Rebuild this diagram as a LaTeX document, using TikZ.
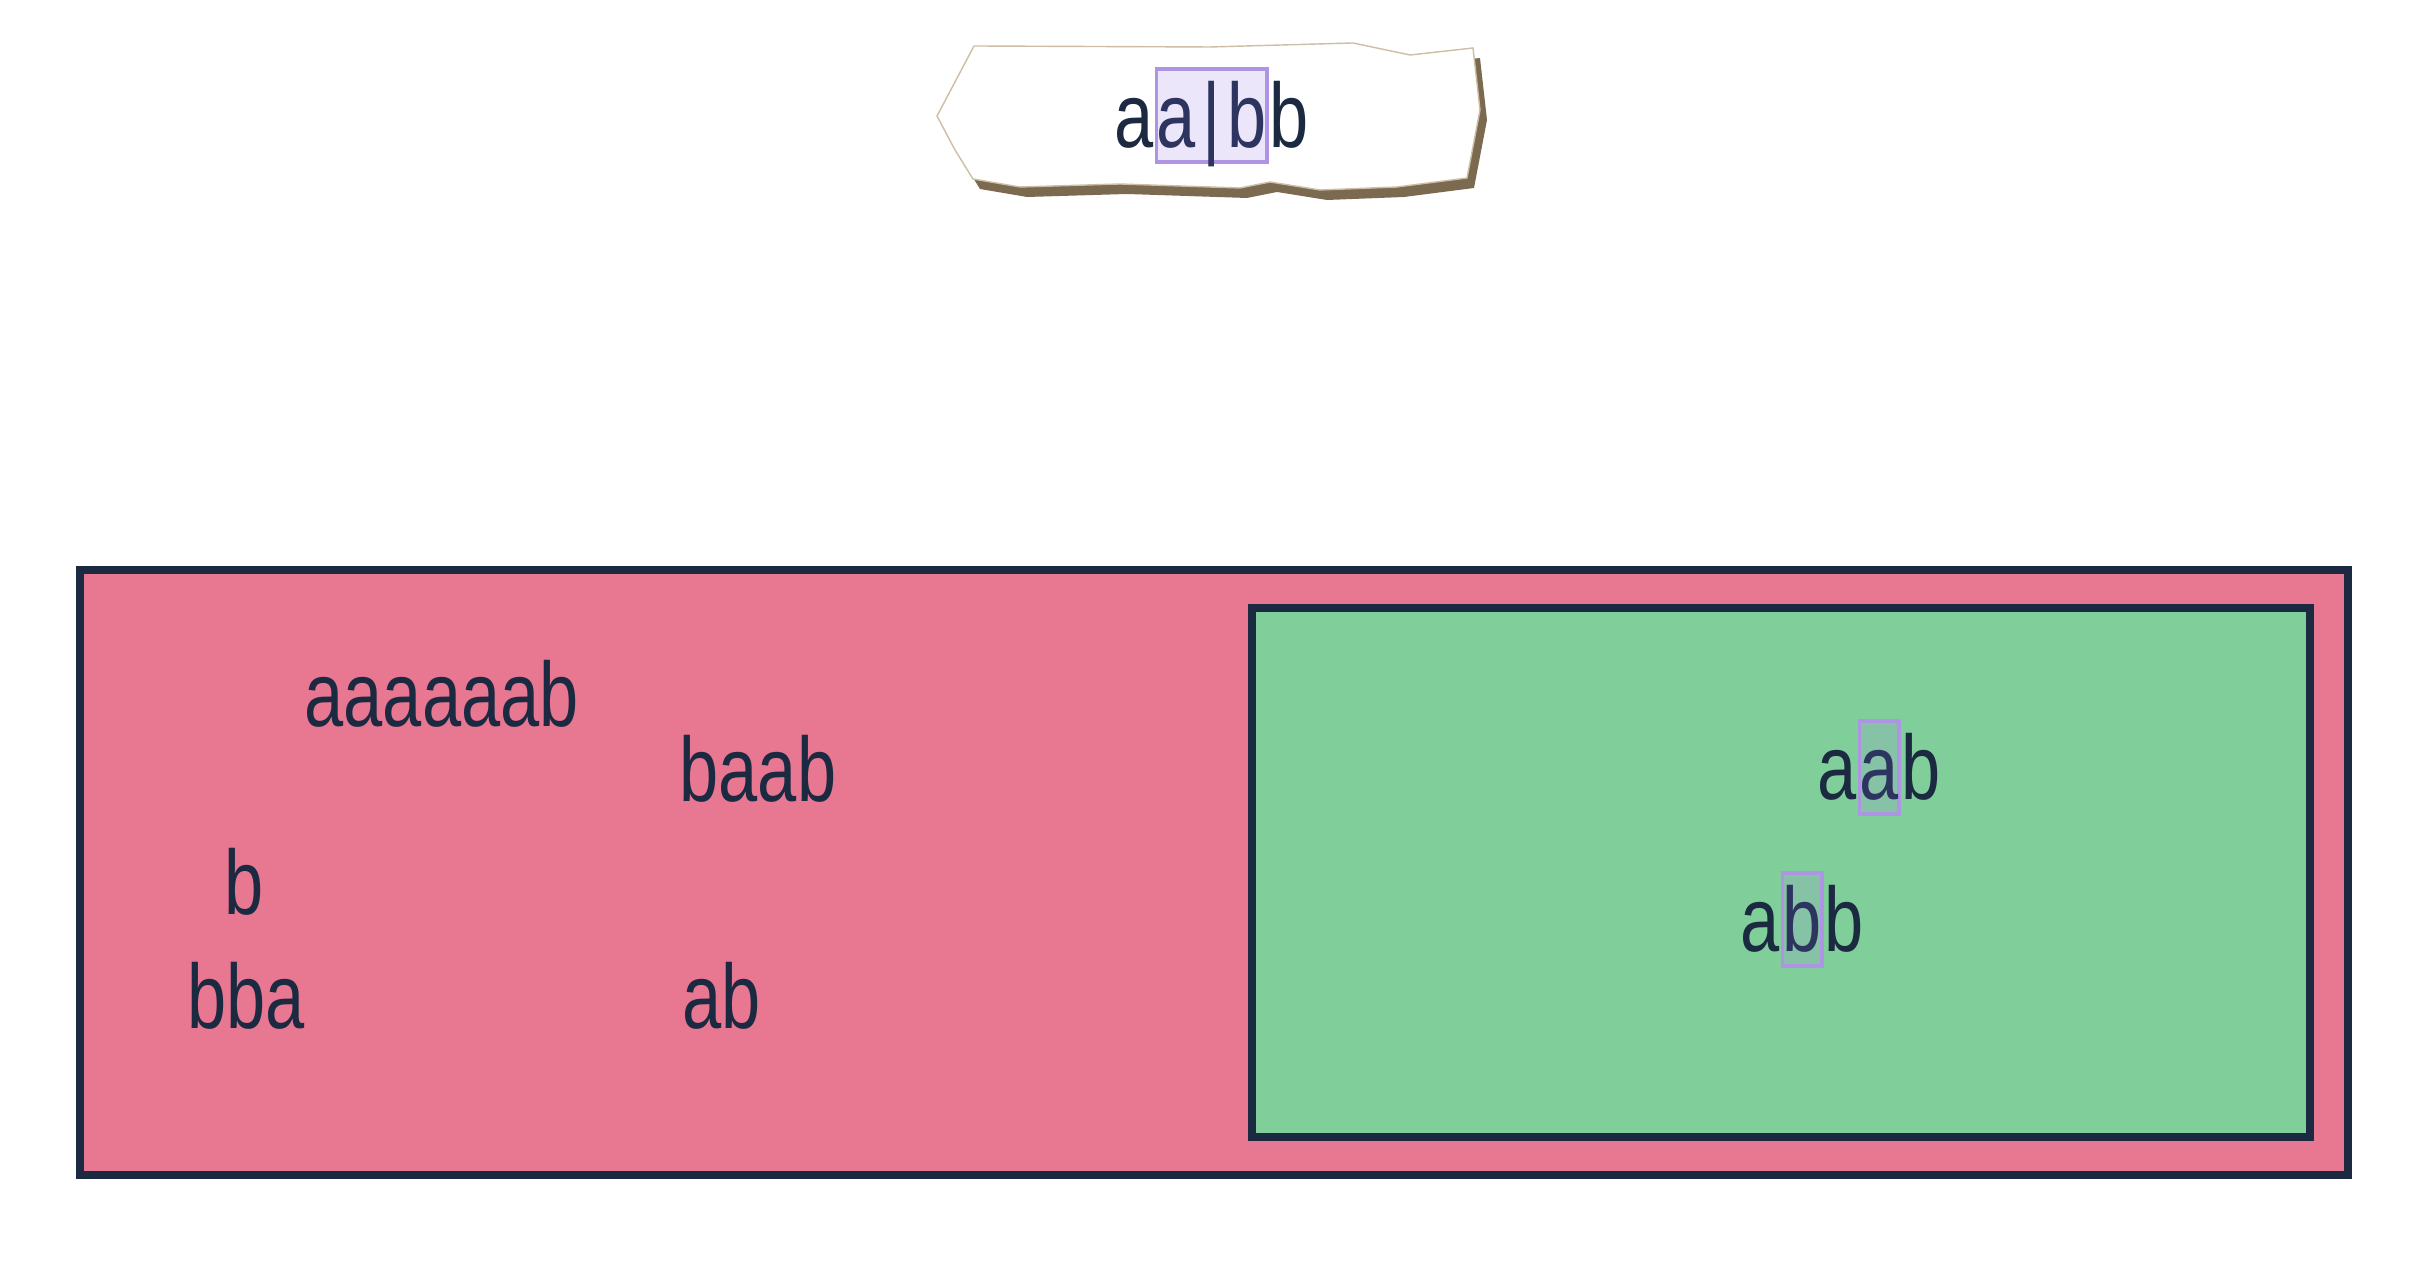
\documentclass[tikz,border=0pt]{standalone}
\usepackage{fontspec}
\setmainfont{Liberation Sans}[FakeStretch=0.77]
\usetikzlibrary{positioning}
\definecolor{ink}{RGB}{27,42,65}
\definecolor{inkhl}{RGB}{46,52,96}
\definecolor{setpink}{RGB}{232,119,146}
\definecolor{setgreen}{RGB}{128,207,154}
\definecolor{hlline}{RGB}{176,148,228}
\definecolor{hlwhite}{RGB}{236,230,250}
\definecolor{hlgreen}{RGB}{134,195,166}
\definecolor{tagedge}{RGB}{205,190,165}
\definecolor{tagshadow}{RGB}{123,106,80}
\newcommand\tagpath{(974,46) -- (1210,47) -- (1353,43) -- (1410,55) -- (1473,48)
  -- (1480,110) -- (1467,178) -- (1397,187) -- (1320,190) -- (1270,182) -- (1240,188)
  -- (1120,184) -- (1020,187) -- (973,179) -- (955,150) -- (937,116) -- cycle}

\begin{document}
\begin{tikzpicture}[x=0.01cm, y=-0.01cm, font=\fontsize{26}{30}\selectfont,
  word/.style={inner sep=0pt, anchor=base west, text=ink},
  hlbox/.style={word, draw=hlline, line width=1.1pt, text height=22.5pt, text depth=4pt, text=inkhl},
  setbox/.style={draw=ink, line width=2.3pt}]
  \useasboundingbox (0,0) rectangle (2432,1286);

  % torn paper tag with the cursor
  \fill[tagshadow, shift={(7,10)}] \tagpath;
  \filldraw[fill=white, draw=tagedge, line width=0.4pt] \tagpath;
  \node[word] (cur1) at (1114,148) {a};
  \node[hlbox, fill=hlwhite] (cur2) at (cur1.base east) {a\kern2pt|\kern2pt b};
  \node[word] (cur3) at (cur2.base east) {b};

  % outer set and inner set
  \draw[setbox, fill=setpink] (80,570) rectangle (2348,1175);
  \draw[setbox, fill=setgreen] (1252,608) rectangle (2310,1137);

  % words outside
  \node[word] (w1) at (304,727) {aaaaaab};
  \node[word] (w2) at (679,802) {baab};
  \node[word] (w3) at (224,915) {b};
  \node[word] (w4) at (187,1029) {bba};
  \node[word] (w5) at (682,1029) {ab};

  % words inside
  \node[word] (aab1) at (1817,800) {a};
  \node[hlbox, fill=hlgreen] (aab2) at (aab1.base east) {a};
  \node[word] (aab3) at (aab2.base east) {b};
  \node[word] (abb1) at (1740,952) {a};
  \node[hlbox, fill=hlgreen] (abb2) at (abb1.base east) {b};
  \node[word] (abb3) at (abb2.base east) {b};
\end{tikzpicture}
\end{document}
